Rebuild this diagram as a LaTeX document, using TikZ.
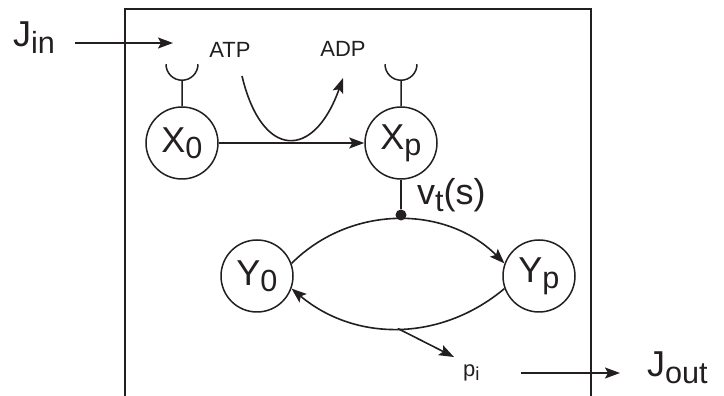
\documentclass[tikz,border=0pt]{standalone}
\usepackage{graphicx}
\usepackage{fontspec}
\setmainfont{Liberation Sans}
\usetikzlibrary{arrows.meta,positioning}
\definecolor{ink}{HTML}{231F20}
\newcommand{\lowsub}[1]{\raisebox{-0.17em}{\scalebox{0.85}{#1}}}
\tikzset{
  every node/.style={font=\fontsize{36}{40}\selectfont, text=ink, inner sep=0pt},
  state/.style={circle, draw=ink, line width=1.5pt, minimum size=72pt, inner sep=0pt},
  biglabel/.style={font=\fontsize{36}{40}\selectfont, anchor=base west},
  smalllabel/.style={font=\fontsize{22}{26}\selectfont, anchor=base},
  arrow/.style={-{Stealth[length=15pt,width=11pt,inset=3pt]}, line width=1.6pt, draw=ink},
  link/.style={line width=1.5pt, draw=ink},
  frame/.style={line width=2pt, draw=ink},
  hub/.style={circle, fill=ink, minimum size=11pt, inner sep=0pt},
}

\begin{document}
\begin{tikzpicture}[x=1pt,y=1pt]
\useasboundingbox (0,0) rectangle (724,396);
\draw[frame] (125,0) -- (125,387) -- (591,387) -- (591,0);
% phosphorylation step
\node[biglabel] (jin) at (13,349) {J\lowsub{in}};
\coordinate (jintip) at (173,353);
\draw[arrow] ([xshift=20pt]jin.east |- jintip) -- (jintip);
\node[smalllabel] (atp) at (230,338) {ATP};
\node[smalllabel] (adp) at (343,339) {ADP};
\node[state] (x0) at (182,253) {X\lowsub{0}};
\node[state] (xp) at (401,253) {X\lowsub{p}};
\draw[link] (x0.north) -- ++(0,26) coordinate (x0cup) ++(-16,16) arc[start angle=180,end angle=360,radius=16];
\draw[link] (xp.north) -- ++(0,26) coordinate (xpcup) ++(-16,16) arc[start angle=180,end angle=360,radius=16];
\draw[arrow] (x0) -- (xp);
\coordinate (atpout) at (242,320);
\coordinate (adpin) at (343,318);
\draw[arrow] (atpout) .. controls (262,236) and (314,236) .. (adpin);
% output cycle
\node[hub] (hub) at (401,181) {};
\draw[link] (xp) -- (hub);
\node[biglabel] (rate) at (417,191) {v\lowsub{t}(s)};
\node[state] (y0) at (257,120) {Y\lowsub{0}};
\node[state] (yp) at (539,120) {Y\lowsub{p}};
\draw[arrow] (y0.20) to[out=45,in=135] (yp.160);
\draw[arrow] (yp.200) to[out=-140,in=-40] coordinate[pos=0.5] (split) (y0.-20);
\coordinate (pitip) at (454,39);
\draw[arrow] (split) -- (pitip);
\node[smalllabel, anchor=base west] (pi) at (463,19) {p\lowsub{i}};
\node[biglabel] (jout) at (647,19) {J\lowsub{out}};
\coordinate (jouttip) at (620,23);
\draw[arrow] ([xshift=41pt]pi.east |- jouttip) -- (jouttip);
\end{tikzpicture}
\end{document}
